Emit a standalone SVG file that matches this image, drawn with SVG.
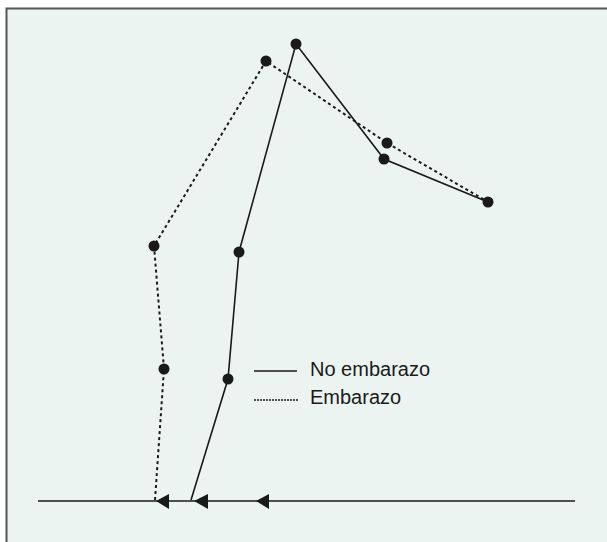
<svg xmlns="http://www.w3.org/2000/svg" width="607" height="542" viewBox="0 0 607 542">
<style>
.dot{fill:#1a1a1a}
.solid{fill:none;stroke:#1a1a1a;stroke-width:1.6}
.dash{fill:none;stroke:#1a1a1a;stroke-width:2;stroke-dasharray:3,3}
.lbl{font-family:"Liberation Sans",Arial,sans-serif;font-size:20px;fill:#1a1a1a}
.arr{fill:#1a1a1a}
</style>
<rect x="6.5" y="8.5" width="610" height="545" fill="#ebf4f1" stroke="#555" stroke-width="2"/>
<g id="connectors">
<line x1="38" y1="501" x2="575" y2="501" stroke="#1a1a1a" stroke-width="1.6"/>
<polyline class="solid" points="191,500 228,379 239,252 296,44 384,159 488,202"/>
<polyline class="dash" points="155,500 164,369 154,246 266,61 387,143 488,202"/>
</g>
<g id="arrows">
<polygon class="arr" points="156,501 169,494 169,509"/>
<polygon class="arr" points="194,501 208,494 208,509"/>
<polygon class="arr" points="256,501 269,494 269,509"/>
</g>
<g id="no-embarazo-points">
<circle class="dot" cx="228" cy="379" r="5.5"/>
<circle class="dot" cx="239" cy="252" r="5.5"/>
<circle class="dot" cx="296" cy="44" r="5.5"/>
<circle class="dot" cx="384" cy="159" r="5.5"/>
<circle class="dot" cx="488" cy="202" r="5.5"/>
</g>
<g id="embarazo-points">
<circle class="dot" cx="164" cy="369" r="5.5"/>
<circle class="dot" cx="154" cy="246" r="5.5"/>
<circle class="dot" cx="266" cy="61" r="5.5"/>
<circle class="dot" cx="387" cy="143" r="5.5"/>
</g>
<g id="legend">
<line x1="254" y1="371" x2="297" y2="371" stroke="#1a1a1a" stroke-width="1.6"/>
<text class="lbl" x="310" y="376">No embarazo</text>
<line x1="254" y1="400" x2="298" y2="400" stroke="#1a1a1a" stroke-width="1.6" stroke-dasharray="2,1"/>
<text class="lbl" x="310" y="404">Embarazo</text>
</g>
</svg>
